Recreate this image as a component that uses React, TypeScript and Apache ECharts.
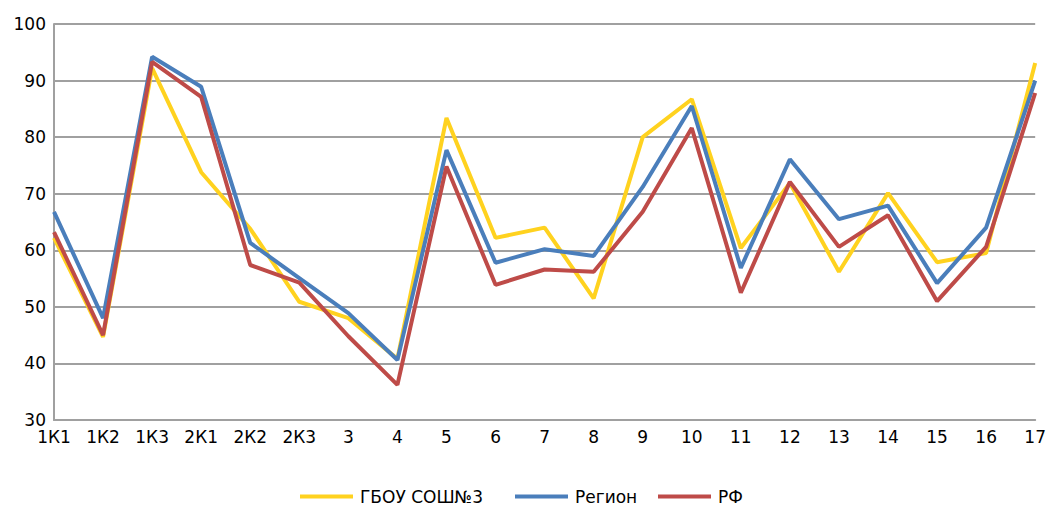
import React, { useEffect, useRef } from "react";
import * as echarts from "echarts";

const categories = ["1К1", "1К2", "1К3", "2К1", "2К2", "2К3", "3", "4", "5", "6", "7", "8", "9", "10", "11", "12", "13", "14", "15", "16", "17"];
const school = [62.2, 44.7, 92.2, 73.8, 63.8, 50.9, 48.0, 40.8, 83.4, 62.2, 64.0, 51.5, 80.0, 86.7, 60.4, 71.9, 56.2, 70.1, 57.9, 59.5, 93.1];
const region = [66.8, 48.0, 94.2, 88.9, 61.3, 55.1, 48.9, 40.6, 77.7, 57.8, 60.2, 59.0, 71.2, 85.5, 56.9, 76.1, 65.5, 67.9, 54.2, 64.0, 90.0];
const rf = [63.2, 45.0, 93.3, 87.1, 57.4, 54.3, 44.8, 36.2, 74.8, 53.9, 56.6, 56.2, 66.8, 81.6, 52.5, 72.1, 60.6, 66.2, 51.0, 60.6, 87.8];
const seriesNames = ["ГБОУ СОШ№3", "Регион", "РФ"];
const colors = ["#FFD21F", "#4A7EBB", "#BE4B48"];
const legendLefts = [300, 515, 658];

export default function App() {
  const ref = useRef<HTMLDivElement>(null);
  useEffect(() => {
    if (!ref.current) return;
    const chart = echarts.init(ref.current, null, { renderer: "svg" });
    const font = "DejaVu Sans, Verdana, sans-serif";
    const data = [school, region, rf];
    chart.setOption({
      animation: false,
      textStyle: { fontFamily: font },
      grid: { left: 54, right: 13, top: 24, bottom: 86, containLabel: false },
      legend: seriesNames.map((name, i) => ({
        left: legendLefts[i],
        top: 488,
        padding: 0,
        icon: "rect",
        itemWidth: 53,
        itemHeight: 4,
        textStyle: { fontFamily: font, fontSize: 17, color: "#000", padding: [0, 0, 0, 2] },
        data: [name],
      })),
      xAxis: {
        type: "category",
        data: categories,
        boundaryGap: false,
        axisLine: { lineStyle: { color: "#a0a0a0", width: 2 } },
        axisTick: { show: false },
        axisLabel: { color: "#000", fontSize: 17, fontFamily: font, margin: 8, interval: 0 },
        splitLine: { show: false },
      },
      yAxis: {
        type: "value",
        min: 30,
        max: 100,
        interval: 10,
        axisLine: { show: true, lineStyle: { color: "#a0a0a0", width: 2 } },
        axisTick: { show: false },
        axisLabel: { color: "#000", fontSize: 17, fontFamily: font, margin: 8 },
        splitLine: { lineStyle: { color: "#a0a0a0", width: 2 } },
      },
      series: seriesNames.map((name, i) => ({
        name,
        type: "line",
        data: data[i],
        showSymbol: false,
        symbol: "none",
        lineStyle: { color: colors[i], width: 4 },
        itemStyle: { color: colors[i] },
      })),
    });
    return () => chart.dispose();
  }, []);
  return <div ref={ref} style={{ width: 1049, height: 506, position: "absolute", left: 0, top: 0 }} />;
}
